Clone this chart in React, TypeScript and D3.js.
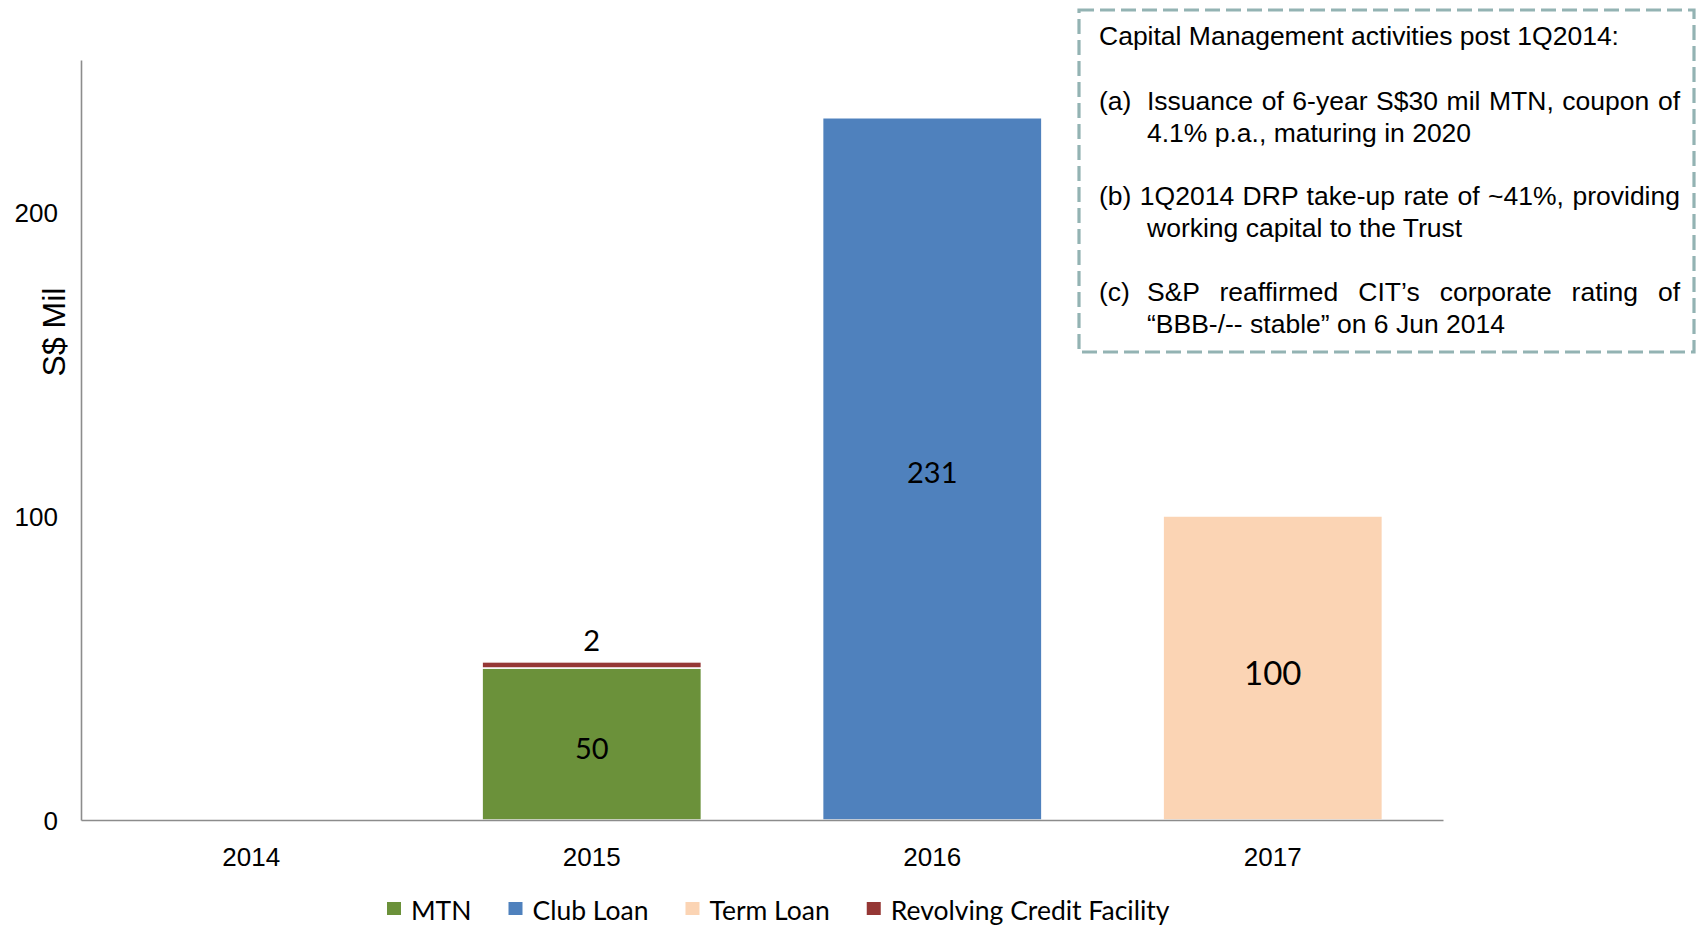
import { useEffect, useRef } from "react";
import * as d3 from "d3";

const years = ["2014", "2015", "2016", "2017"];
const mtn = [0, 50, 0, 0];
const clubLoan = [0, 0, 231, 0];
const termLoan = [0, 0, 0, 100];
const revolving = [0, 2, 0, 0];
const yTicks = [0, 100, 200];
const seriesNames = ["MTN", "Club Loan", "Term Loan", "Revolving Credit Facility"];
const seriesColors = ["#6b913a", "#4f81bd", "#fbd4b4", "#953735"];

const noteTitle = "Capital Management activities post 1Q2014:";
const noteItems = [
  { tag: "(a)", lines: ["Issuance of 6-year S$30 mil MTN, coupon of", "4.1% p.a., maturing in 2020"] },
  { tag: "(b)", lines: ["1Q2014 DRP take-up rate of ~41%, providing", "working capital to the Trust"] },
  { tag: "(c)", lines: ["S&P reaffirmed CIT\u2019s corporate rating of", "\u201cBBB-/-- stable\u201d on 6 Jun 2014"] },
];

const W = 1697;
const H = 926;

export default function App() {
  const svgRef = useRef<SVGSVGElement>(null);

  useEffect(() => {
    const svg = d3.select(svgRef.current);
    svg.selectAll("*").remove();

    const margin = { top: 60, right: 254, bottom: 106, left: 81 };
    const innerWidth = W - margin.left - margin.right;
    const innerHeight = H - margin.top - margin.bottom;

    const table = years.map((y, i) => ({
      year: y,
      MTN: mtn[i],
      "Club Loan": clubLoan[i],
      "Term Loan": termLoan[i],
      "Revolving Credit Facility": revolving[i],
    }));

    const x = d3.scaleBand().domain(years).range([0, innerWidth]).paddingInner(0.356).paddingOuter(0.178);
    const y = d3.scaleLinear().domain([0, 250]).range([innerHeight, 0]);
    const color = d3.scaleOrdinal<string>().domain(seriesNames).range(seriesColors);

    const stacked = d3.stack<any>().keys(seriesNames)(table);

    const g = svg.append("g").attr("transform", `translate(${margin.left},${margin.top})`);

    // bars
    stacked.forEach((layer) => {
      g.append("g")
        .selectAll("rect")
        .data(layer.filter((d) => d[1] - d[0] > 0))
        .enter()
        .append("rect")
        .attr("x", (d) => x(d.data.year)!)
        .attr("y", (d) => y(d[1]))
        .attr("width", x.bandwidth())
        .attr("height", (d) => y(d[0]) - y(d[1]))
        .attr("fill", color(layer.key))
        .attr("stroke", "#fff")
        .attr("stroke-width", 1.5);
    });

    // value labels
    stacked.forEach((layer) => {
      const onTop = layer.key === "Revolving Credit Facility";
      g.append("g")
        .selectAll("text")
        .data(layer.filter((d) => d[1] - d[0] > 0))
        .enter()
        .append("text")
        .attr("x", (d) => x(d.data.year)! + x.bandwidth() / 2)
        .attr("y", (d) => (onTop ? y(d[1]) - 11 : (y(d[0]) + y(d[1])) / 2))
        .attr("dy", onTop ? "0" : "0.5em")
        .attr("text-anchor", "middle")
        .style("font-family", "Lato, 'Open Sans', sans-serif")
        .style("font-size", layer.key === "Term Loan" ? "33px" : "29px")
        .attr("fill", "#000")
        .text((d) => d[1] - d[0]);
    });

    // axes
    const xAxis = g
      .append("g")
      .attr("transform", `translate(0,${innerHeight})`)
      .call(d3.axisBottom(x).tickSize(0).tickPadding(28));
    xAxis.select(".domain").attr("stroke", "#8c8c8c").attr("stroke-width", 1.6);
    xAxis.selectAll("text").style("font-family", "'Liberation Sans', Arial, sans-serif").style("font-size", "26px").attr("fill", "#000");

    const yAxis = g.append("g").call(d3.axisLeft(y).tickValues(yTicks).tickSize(0).tickPadding(23));
    yAxis.select(".domain").attr("stroke", "#8c8c8c").attr("stroke-width", 1.6);
    yAxis
      .selectAll("text")
      .attr("dy", "0.36em")
      .style("font-family", "'Liberation Sans', Arial, sans-serif")
      .style("font-size", "26px")
      .attr("fill", "#000");

    svg
      .append("text")
      .attr("transform", `translate(65,${332}) rotate(-90)`)
      .attr("text-anchor", "middle")
      .style("font-family", "'Liberation Sans', Arial, sans-serif")
      .style("font-size", "32px")
      .text("S$ Mil");

    // legend
    const legend = svg.append("g").attr("transform", `translate(387,0)`);
    let lx = 0;
    seriesNames.forEach((name) => {
      legend.append("rect").attr("x", lx).attr("y", 902).attr("width", 14).attr("height", 13).attr("fill", color(name));
      const t = legend
        .append("text")
        .attr("x", lx + 24)
        .attr("y", 920)
        .style("font-family", "Lato, 'Open Sans', sans-serif")
        .style("font-size", "26.5px")
        .text(name);
      lx += 24 + (t.node() as SVGTextElement).getComputedTextLength() + 37;
    });

    // note box
    const note = svg.append("g");
    note
      .append("rect")
      .attr("x", 1079)
      .attr("y", 10)
      .attr("width", 615)
      .attr("height", 342)
      .attr("fill", "#fff")
      .attr("stroke", "#93b3b3")
      .attr("stroke-width", 3.2)
      .attr("stroke-dasharray", "15 6");

    const font = "'Liberation Sans', Arial, sans-serif";
    const left = 1099;
    const indent = 1147;
    const right = 1680;
    const addLine = (txt: string, x0: number, yy: number, justify: boolean) => {
      const t = note
        .append("text")
        .attr("x", x0)
        .attr("y", yy)
        .style("font-family", font)
        .style("font-size", "26.5px")
        .attr("fill", "#000")
        .text(txt);
      if (justify) {
        const len = (t.node() as SVGTextElement).getComputedTextLength();
        const spaces = txt.split(" ").length - 1;
        if (spaces > 0) t.style("word-spacing", `${(right - x0 - len) / spaces}px`);
      }
    };
    addLine(noteTitle, left, 45, false);
    const itemY = [110, 205, 301];
    noteItems.forEach((item, i) => {
      const y0 = itemY[i];
      if (item.tag === "(b)") {
        addLine(`${item.tag} ${item.lines[0]}`, left, y0, true);
      } else {
        addLine(item.tag, left, y0, false);
        addLine(item.lines[0], indent, y0, true);
      }
      addLine(item.lines[1], indent, y0 + 32, false);
    });
  }, []);

  return (
    <svg
      ref={svgRef}
      width={W}
      height={H}
      style={{ position: "absolute", left: 0, top: 0, background: "#fff" }}
    />
  );
}
